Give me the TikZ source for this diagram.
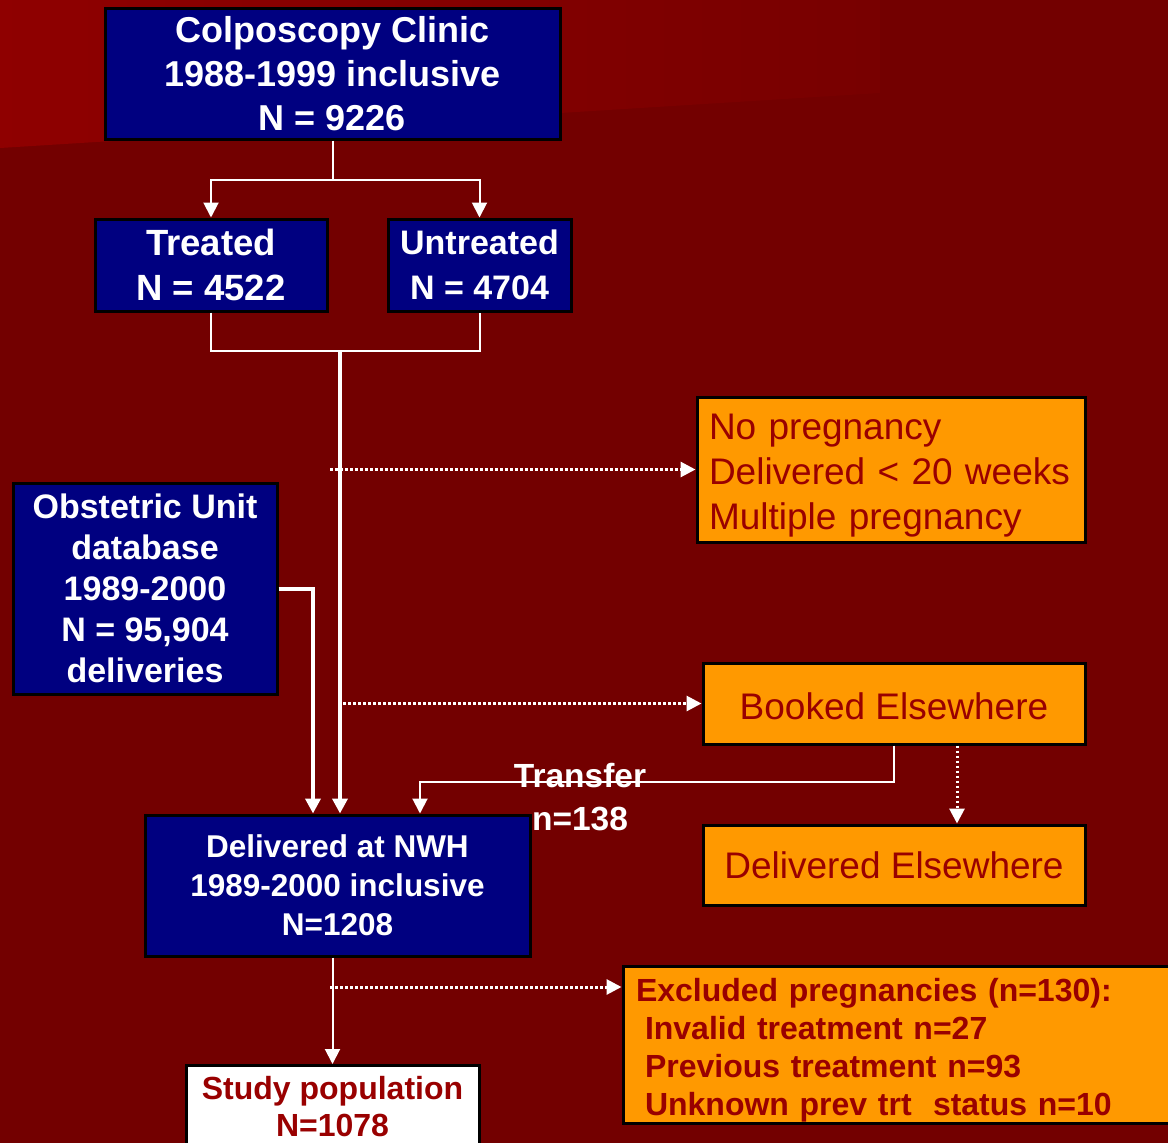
\documentclass[tikz,border=0pt]{standalone}
\usepackage{fontspec}
\setmainfont{Liberation Sans}
\usetikzlibrary{arrows.meta}
\definecolor{qqqqaa}{rgb}{0.,0.,0.5}
\definecolor{ffttqq}{rgb}{1.,0.6,0.}
\definecolor{ttqqqq}{rgb}{0.45,0.,0.}
\definecolor{wwqqqq}{rgb}{0.56,0.,0.}
\definecolor{vvqqqq}{rgb}{0.47,0.,0.}
\definecolor{ccqqqq}{rgb}{0.6,0.,0.}

\begin{document}
\begin{tikzpicture}[line cap=butt,line join=miter,x=1pt,y=-1pt,>={Triangle[length=15pt,width=15pt]},
  bluebox/.style={draw=black,line width=3pt,fill=qqqqaa,text=white,align=center,inner sep=0pt},
  orangebox/.style={draw=black,line width=3pt,fill=ffttqq,text=ccqqqq,inner sep=0pt},
  conn/.style={draw=white,line width=2pt},
  feed/.style={draw=white,line width=4pt},
  dotconn/.style={draw=white,line width=3pt,dash pattern=on 2.5pt off 2.5pt}]
\useasboundingbox (0,0) rectangle (1168,1143);
\fill[ttqqqq] (0,0) rectangle (1168,1143);
\shade[left color=wwqqqq,right color=vvqqqq] (0,0) -- (880,0) -- (880,93) -- (0,148) -- cycle;
% boxes
\node[bluebox,minimum width=455,minimum height=131,font=\bfseries\fontsize{36}{44}\selectfont] (colpo) at (332.5,73.5) {Colposcopy Clinic\\1988-1999 inclusive\\N = 9226};
\node[bluebox,minimum width=232,minimum height=92,font=\bfseries\fontsize{36.5}{45}\selectfont] (treated) at (211,265) {Treated\\N = 4522};
\node[bluebox,minimum width=183,minimum height=92,font=\bfseries\fontsize{34}{45}\selectfont] (untreated) at (479.5,265) {Untreated\\N = 4704};
\node[orangebox,minimum width=388,minimum height=145,text width=364,align=left,font=\fontsize{37}{45}\selectfont] (nopreg) at (891,469.5) {\rule{0pt}{37pt}No pregnancy\\Delivered < 20 weeks\\Multiple pregnancy};
\node[bluebox,minimum width=264,minimum height=211,font=\bfseries\fontsize{34}{41}\selectfont] (obst) at (145,588.5) {Obstetric Unit\\database\\1989-2000\\N = 95,904\\deliveries};
\node[orangebox,minimum width=382,minimum height=81,font=\fontsize{37}{45}\selectfont] (booked) at (894,703.5) {\rule{0pt}{32pt}Booked Elsewhere};
\node[orangebox,minimum width=382,minimum height=80,font=\fontsize{37}{45}\selectfont] (delelse) at (894,865) {Delivered Elsewhere};
\node[bluebox,minimum width=385,minimum height=141,font=\bfseries\fontsize{31.5}{39}\selectfont] (nwh) at (337.5,885.5) {Delivered at NWH\\1989-2000 inclusive\\N=1208};
\node[orangebox,minimum width=552,minimum height=157,text width=526,align=left,font=\bfseries\fontsize{32}{38}\selectfont] (excl) at (899,1044.5) {\rule{0pt}{34pt}Excluded pregnancies (n=130):\\\hspace*{9pt}Invalid treatment n=27\\\hspace*{9pt}Previous treatment n=93\\\hspace*{9pt}Unknown prev trt\ \ status n=10};
\node[draw=black,line width=3pt,fill=white,text=ccqqqq,align=center,inner sep=0pt,minimum width=293,minimum height=83,font=\bfseries\fontsize{32}{37}\selectfont] (study) at (332.5,1107) {Study population\\N=1078};
% connectors
\draw[conn] (colpo.south) -- ++(0,39) coordinate (split);
\draw[conn,->] (split) -| (treated.north);
\draw[conn,->] (split) -| (untreated.north);
\coordinate (merge) at (340,351);
\draw[conn] (treated.south) |- (merge) -| (untreated.south);
\draw[feed,->] (merge) -- (merge |- nwh.north);
\draw[feed,->] (obst.east) -| ([xshift=-24.5]nwh.north);
\coordinate (d1) at (330,469.5);
\draw[dotconn,->] (d1) -- (nopreg.west);
\coordinate (d2) at (343,703.5);
\draw[dotconn,->] (d2) -- (booked.west);
\draw[conn,->] (booked.south) -- ++(0,36) -| ([xshift=82.5]nwh.north);
\node[text=white,align=center,inner sep=0pt,font=\bfseries\fontsize{33.5}{43}\selectfont] (transferlbl) at (580,797) {Transfer\\n=138};
\draw[dotconn,->] ([xshift=63]booked.south) -- ([xshift=63]delelse.north);
\draw[conn,->] (nwh.south -| study.north) -- (study.north);
\coordinate (d3) at (330,987);
\draw[dotconn,->] (d3) -- (d3 -| excl.west);
\end{tikzpicture}
\end{document}
